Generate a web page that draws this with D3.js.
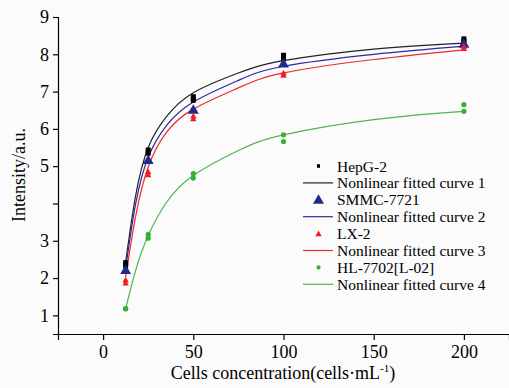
<!DOCTYPE html>
<html>
<head>
<meta charset="utf-8">
<script src="https://cdn.jsdelivr.net/npm/d3@7"></script>
<style>
  body { margin: 0; background: #fbfbfb; }
  svg { display: block; }
  svg text { font-family: "Liberation Serif", "Times New Roman", "DejaVu Serif", serif !important; fill: #000; }
  .axis text { font-size: 18px; }
  .axis path, .axis line { stroke: #000; stroke-width: 1.2; }
</style>
</head>
<body>
<div id="chart"></div>
<script>
// measured concentrations
const conc = [12.5, 25, 50, 100, 200];

// replicate measurements (two readings per point)
const hepg2 = [[2.40, 5.42, 6.85, 7.96, 8.40], [2.33, 5.36, 6.78, 7.90, 8.33]];
const smmc = [[2.21, 5.16, 6.51, 7.75, 8.28]];
const lx2 = [[1.95, 4.85, 6.35, 7.50, 8.22], [1.87, 4.77, 6.27, 7.44, 8.16]];
const hl7702 = [[1.18, 3.17, 4.80, 5.84, 6.65], [1.18, 3.07, 4.68, 5.66, 6.47]];

// fitted curves
const curveX = [12.5, 18, 25, 35, 50, 75, 100, 150, 200];
const fit1 = [2.43, 4.20, 5.50, 6.32, 6.97, 7.50, 7.83, 8.14, 8.30];
const fit2 = [2.25, 3.98, 5.24, 6.08, 6.72, 7.30, 7.68, 8.00, 8.22];
const fit3 = [2.03, 3.65, 4.98, 5.90, 6.53, 7.10, 7.50, 7.86, 8.12];
const fit4 = [1.18, 2.20, 3.14, 4.02, 4.75, 5.42, 5.84, 6.25, 6.47];

const xTicks = [0, 50, 100, 150, 200];
const yTicks = [1, 2, 3, 4, 5, 6, 7, 8, 9];

const W = 509, H = 388;

const svg = d3.select("#chart")
    .append("svg")
    .attr("width", W)
    .attr("height", H);

const x = d3.scaleLinear().domain([-25, 225]).range([58, 509]);
const y = d3.scaleLinear().domain([0.5, 9]).range([334, 17]);

// axes
svg.append("g")
    .attr("class", "axis")
    .attr("transform", "translate(0,334)")
    .call(d3.axisBottom(x).tickValues(xTicks).tickSizeOuter(0).tickSize(6).tickPadding(5));

svg.append("g")
    .attr("class", "axis")
    .attr("transform", "translate(58,0)")
    .call(d3.axisLeft(y).tickValues(yTicks).tickSizeOuter(0).tickSize(5).tickPadding(4)
        .tickFormat(d => d === 4 ? "" : d));

// axis titles
const xt = svg.append("text")
    .attr("x", 283)
    .attr("y", 379)
    .attr("text-anchor", "middle")
    .style("font-size", "18px");
xt.append("tspan").text("Cells concentration(cells\u00B7mL");
xt.append("tspan").attr("dy", -7).style("font-size", "11px").text("-1");
xt.append("tspan").attr("dy", 7).text(")");

svg.append("text")
    .attr("transform", "rotate(-90)")
    .attr("x", -175)
    .attr("y", 25)
    .attr("text-anchor", "middle")
    .style("font-size", "18px")
    .text("Intensity/a.u.");

// curves
const series = [
    { fit: fit1, line: "#222222", pts: hepg2, col: "#000000", shape: "square", name: "HepG-2" },
    { fit: fit2, line: "#2a2aa0", pts: smmc, col: "#202a8c", shape: "bigtri", name: "SMMC-7721" },
    { fit: fit3, line: "#f02828", pts: lx2, col: "#ee1c24", shape: "tri", name: "LX-2" },
    { fit: fit4, line: "#4cb84c", pts: hl7702, col: "#35b035", shape: "dot", name: "HL-7702[L-02]" }
];

const line = d3.line()
    .x(d => x(d[0]))
    .y(d => y(d[1]))
    .curve(d3.curveNatural);

series.forEach(s => {
    svg.append("path")
        .datum(curveX.map((c, i) => [c, s.fit[i]]))
        .attr("fill", "none")
        .attr("stroke", s.line)
        .attr("stroke-width", 1.2)
        .attr("d", line);
});

function marker(g, shape, cx, cy, col, scale) {
    const k = scale || 1;
    if (shape === "square") {
        g.append("rect").attr("x", cx - 2.5 * k).attr("y", cy - 3 * k)
            .attr("width", 5 * k).attr("height", 6 * k).attr("fill", col);
    } else if (shape === "bigtri") {
        const s = 5.5 * k;
        g.append("path").attr("d", `M${cx},${cy - s}L${cx + s},${cy + s * 0.7}L${cx - s},${cy + s * 0.7}Z`)
            .attr("fill", col);
    } else if (shape === "tri") {
        const s = 3.2 * k;
        g.append("path").attr("d", `M${cx},${cy - s}L${cx + s},${cy + s * 0.8}L${cx - s},${cy + s * 0.8}Z`)
            .attr("fill", col);
    } else {
        g.append("circle").attr("cx", cx).attr("cy", cy).attr("r", 2.6 * k).attr("fill", col);
    }
}

// data points
const pts = svg.append("g");
series.forEach(s => {
    s.pts.forEach(rep => {
        rep.forEach((v, i) => marker(pts, s.shape, x(conc[i]), y(v), s.col));
    });
});

// legend
const legend = svg.append("g").attr("transform", "translate(303,166)");
const rowH = 16.9;
series.forEach((s, i) => {
    const y0 = i * 2 * rowH;
    marker(legend, s.shape, 15.5, y0, s.col, s.shape === "square" ? 0.6 : (s.shape === "dot" ? 0.8 : 1));
    legend.append("text")
        .attr("x", 34).attr("y", y0 + 5.5)
        .style("font-size", "15.5px")
        .text(s.name);
    legend.append("line")
        .attr("x1", 0).attr("x2", 30)
        .attr("y1", y0 + rowH).attr("y2", y0 + rowH)
        .attr("stroke", s.line).attr("stroke-width", 1.2);
    legend.append("text")
        .attr("x", 34).attr("y", y0 + rowH + 5.5)
        .style("font-size", "15.5px")
        .text("Nonlinear fitted curve " + (i + 1));
});
</script>
</body>
</html>
